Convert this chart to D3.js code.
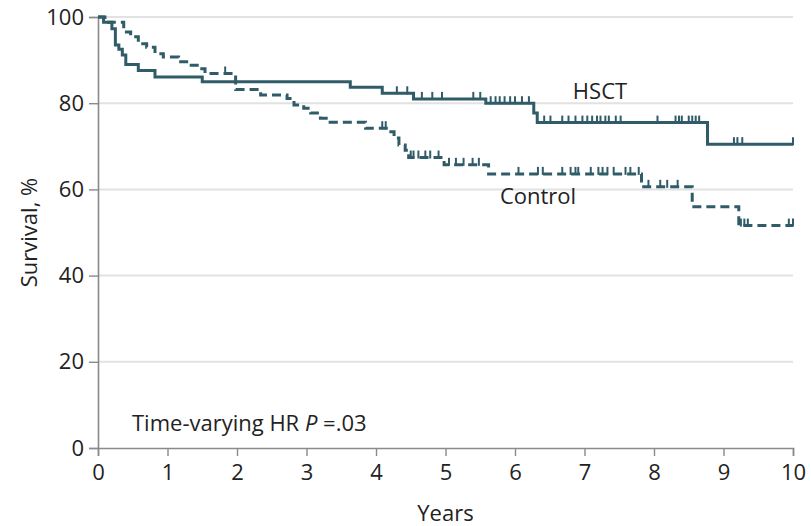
<!DOCTYPE html>
<html>
<head>
<meta charset="utf-8">
<script src="https://cdn.jsdelivr.net/npm/d3@7"></script>
<style>
  body { margin: 0; background: #fff; }
  svg text { font-family: "Open Sans", "Noto Sans", sans-serif; fill: #222; }
</style>
</head>
<body>
<svg id="chart" width="811" height="526"></svg>
<script>
// Kaplan-Meier steps (years, survival %)
const hsctTimes = [0, 0.08, 0.2, 0.25, 0.3, 0.35, 0.4, 0.58, 0.82, 1.5, 3.63, 4.09, 4.54, 5.58, 6.27, 6.32, 8.77, 10];
const hsctSurv  = [100, 98.8, 97.3, 93.5, 92.5, 91.2, 89.0, 87.6, 86.1, 85.0, 83.7, 82.3, 81.0, 80.0, 77.7, 75.5, 70.5, 70.5];
const hsctCensor = [4.30, 4.45, 4.66, 4.81, 4.95, 5.40, 5.50, 5.65, 5.72, 5.78, 5.85, 5.93, 6.0, 6.1, 6.2,
  6.42, 6.51, 6.68, 6.77, 6.87, 6.97, 7.04, 7.11, 7.18, 7.23, 7.30, 7.35, 7.45, 7.52, 8.05, 8.31, 8.36, 8.40,
  8.50, 8.55, 8.60, 8.65, 9.15, 9.20, 9.27, 10];

const ctrlTimes = [0, 0.1, 0.37, 0.47, 0.58, 0.70, 0.82, 0.94, 1.16, 1.30, 1.45, 1.54, 1.98, 2.34, 2.72, 2.82,
  2.96, 3.06, 3.20, 3.34, 3.85, 4.18, 4.26, 4.33, 4.42, 4.47, 4.98, 5.62, 7.82, 8.55, 9.22, 10];
const ctrlSurv  = [100, 98.8, 96.5, 95.4, 93.8, 93.0, 91.5, 90.7, 89.6, 88.8, 88.0, 86.9, 83.2, 81.9, 81.1, 79.6,
  78.8, 77.7, 76.5, 75.6, 74.2, 73.4, 71.9, 70.3, 69.1, 67.4, 65.7, 63.6, 60.6, 56.0, 51.6, 51.6];
const ctrlCensor = [1.83, 4.09, 4.14, 4.50, 4.54, 4.61, 4.71, 4.78, 4.90, 5.05, 5.15, 5.26, 5.39, 5.48, 6.05,
  6.33, 6.40, 6.68, 6.80, 6.87, 6.91, 7.09, 7.20, 7.26, 7.33, 7.42, 7.59, 7.66, 7.78, 7.92, 8.09, 8.19, 8.34,
  9.25, 9.30, 9.35, 9.94, 10];

const xTicks = [0, 1, 2, 3, 4, 5, 6, 7, 8, 9, 10];
const yTicks = [0, 20, 40, 60, 80, 100];

const margin = {top: 17, left: 98, right: 18, bottom: 78};
const width = 811, height = 526;
const color = '#2f5c68';

const svg = d3.select('#chart');
const x = d3.scaleLinear().domain([0, 10]).range([margin.left, 793]);
const y = d3.scaleLinear().domain([0, 100]).range([448, margin.top]);

// grid
svg.append('g')
  .selectAll('line')
  .data(yTicks.filter(d => d > 0))
  .join('line')
  .attr('x1', x(0)).attr('x2', x(10))
  .attr('y1', d => y(d)).attr('y2', d => y(d))
  .attr('stroke', '#e2e2e2')
  .attr('stroke-width', 2);

// axes
const xAxis = svg.append('g')
  .attr('transform', `translate(0,${y(0)})`)
  .call(d3.axisBottom(x).tickValues(xTicks).tickSize(8).tickPadding(8).tickFormat(d3.format('d')));
const yAxis = svg.append('g')
  .attr('transform', `translate(${x(0)},0)`)
  .call(d3.axisLeft(y).tickValues(yTicks).tickSize(9).tickPadding(5).tickFormat(d3.format('d')));
[xAxis, yAxis].forEach(a => {
  a.select('.domain').attr('stroke', '#8a8a8a').attr('stroke-width', 1.6);
  a.selectAll('.tick line').attr('stroke', '#8a8a8a').attr('stroke-width', 1.4);
  a.selectAll('.tick text').attr('font-size', 22).attr('fill', '#222')
    .style('font-family', '"Open Sans", sans-serif');
});

// step value lookup
function survAt(times, surv, t) {
  const i = d3.bisectRight(times, t) - 1;
  return surv[Math.max(0, i)];
}

const line = d3.line()
  .x(d => x(d[0]))
  .y(d => y(d[1]))
  .curve(d3.curveStepAfter);

function drawCurve(times, surv, censor, dash) {
  const g = svg.append('g');
  g.append('path')
    .datum(d3.zip(times, surv))
    .attr('d', line)
    .attr('fill', 'none')
    .attr('stroke', color)
    .attr('stroke-width', 3)
    .attr('stroke-dasharray', dash);
  g.selectAll('line.cens')
    .data(censor)
    .join('line')
    .attr('class', 'cens')
    .attr('x1', d => x(d)).attr('x2', d => x(d))
    .attr('y1', d => y(survAt(times, surv, d)) + 1)
    .attr('y2', d => y(survAt(times, surv, d)) - 7)
    .attr('stroke', color)
    .attr('stroke-width', 2);
}

drawCurve(ctrlTimes, ctrlSurv, ctrlCensor, '9,5');
drawCurve(hsctTimes, hsctSurv, hsctCensor, null);

// labels
svg.append('text').attr('x', 600).attr('y', 99).attr('text-anchor', 'middle')
  .attr('font-size', 22).text('HSCT');
svg.append('text').attr('x', 538).attr('y', 204).attr('text-anchor', 'middle')
  .attr('font-size', 22).text('Control');

const note = svg.append('text').attr('x', 132).attr('y', 431).attr('font-size', 22);
note.append('tspan').text('Time-varying HR ');
note.append('tspan').attr('font-style', 'italic').text('P');
note.append('tspan').text(' =.03');

svg.append('text').attr('x', (x(0) + x(10)) / 2).attr('y', 521).attr('text-anchor', 'middle')
  .attr('font-size', 22).text('Years');
svg.append('text')
  .attr('transform', `translate(37,${(y(0) + y(100)) / 2}) rotate(-90)`)
  .attr('text-anchor', 'middle')
  .attr('font-size', 22).text('Survival, %');
</script>
</body>
</html>
